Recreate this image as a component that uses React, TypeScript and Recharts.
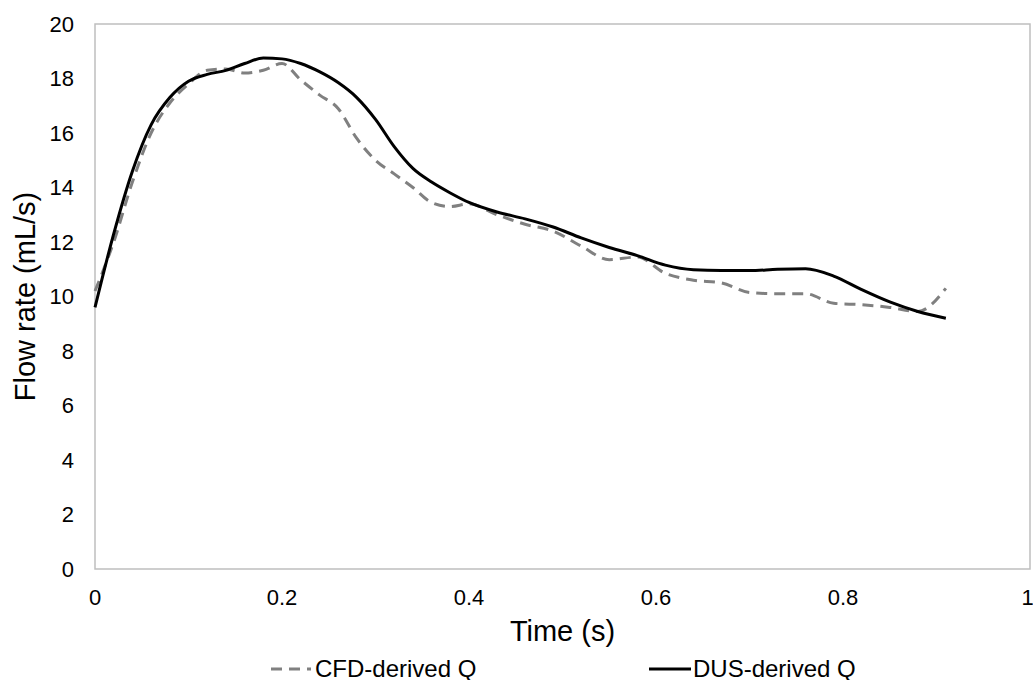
import React from "react";
import {
  LineChart,
  Line,
  XAxis,
  YAxis,
  Legend,
  ReferenceArea,
} from "recharts";

const time = [
  0, 0.02, 0.04, 0.06, 0.08, 0.1, 0.12, 0.14, 0.16, 0.18, 0.2, 0.22, 0.24,
  0.26, 0.28, 0.3, 0.32, 0.34, 0.36, 0.38, 0.4, 0.43, 0.46, 0.49, 0.52, 0.55,
  0.58, 0.61, 0.64, 0.67, 0.7, 0.73, 0.76, 0.79, 0.82, 0.85, 0.88, 0.91,
];

const cfdQ = [
  10.2, 12.0, 14.2, 16.0, 17.1, 17.8, 18.3, 18.35, 18.2, 18.3, 18.55, 17.95,
  17.4, 16.9, 15.8, 15.0, 14.5, 14.0, 13.45, 13.3, 13.4, 13.0, 12.65, 12.4,
  11.85, 11.35, 11.45, 10.85, 10.6, 10.5, 10.15, 10.1, 10.1, 9.75, 9.7, 9.6,
  9.45, 10.3,
];

const dusQ = [
  9.6, 12.3, 14.6, 16.3, 17.3, 17.9, 18.15, 18.3, 18.55, 18.75, 18.72, 18.55,
  18.25, 17.85, 17.3, 16.5, 15.5, 14.7, 14.2, 13.8, 13.45, 13.1, 12.85,
  12.55, 12.15, 11.8, 11.5, 11.15, 10.98, 10.95, 10.95, 11.0, 11.02, 10.75,
  10.25, 9.8, 9.45, 9.2,
];

const xTicks = [0, 0.2, 0.4, 0.6, 0.8, 1];
const yTicks = [0, 2, 4, 6, 8, 10, 12, 14, 16, 18, 20];

const seriesNames = { cfd: "CFD-derived Q", dus: "DUS-derived Q" };

const data = time.map((t, i) => ({ t, cfd: cfdQ[i], dus: dusQ[i] }));

const FONT = '"Liberation Sans", Arial, sans-serif';

function FlowLegend() {
  return (
    <div
      style={{
        height: 36,
        boxSizing: "border-box",
        paddingTop: 14,
        paddingLeft: 271,
        display: "flex",
        justifyContent: "flex-start",
        alignItems: "center",
        fontFamily: FONT,
        fontSize: 24,
        color: "#000",
      }}
    >
      <div style={{ display: "flex", alignItems: "center", width: 378 }}>
        <svg width={40} height={10}>
          <line x1={0} y1={5} x2={40} y2={5} stroke="#808080" strokeWidth={3} strokeDasharray="11 7" />
        </svg>
        <span style={{ marginLeft: 4 }}>{seriesNames.cfd}</span>
      </div>
      <div style={{ display: "flex", alignItems: "center" }}>
        <svg width={42} height={10}>
          <line x1={0} y1={5} x2={42} y2={5} stroke="#000" strokeWidth={3} />
        </svg>
        <span style={{ marginLeft: 2 }}>{seriesNames.dus}</span>
      </div>
    </div>
  );
}

export default function App() {
  return (
    <div style={{ position: "absolute", left: 0, top: 0, width: 1033, height: 680, background: "#fff" }}>
      <LineChart
        width={1033}
        height={680}
        data={data}
        margin={{ top: 24, right: 3, bottom: 0, left: 0 }}
        style={{ fontFamily: FONT }}
      >
        <ReferenceArea
          x1={0}
          x2={1}
          y1={0}
          y2={20}
          fill="none"
          stroke="#bfbfbf"
          strokeWidth={1.5}
        />
        <XAxis
          dataKey="t"
          type="number"
          domain={[0, 1]}
          ticks={xTicks}
          axisLine={false}
          tickLine={false}
          tickMargin={14}
          height={75}
          tick={{ fontSize: 22, fill: "#000" }}
          label={{
            value: "Time (s)",
            position: "insideBottom",
            offset: 3,
            fontSize: 29,
            fill: "#000",
          }}
        />
        <YAxis
          type="number"
          domain={[0, 20]}
          ticks={yTicks}
          width={95}
          axisLine={false}
          tickLine={false}
          tickMargin={15}
          tick={{ fontSize: 22, fill: "#000" }}
          label={{
            content: ({ viewBox }: any) => {
              const cy = viewBox.y + viewBox.height / 2;
              return (
                <text
                  x={25}
                  y={cy}
                  transform={`rotate(-90 25 ${cy})`}
                  textAnchor="middle"
                  dominantBaseline="central"
                  fontSize={29}
                  fill="#000"
                  fontFamily={FONT}
                >
                  Flow rate (mL/s)
                </text>
              );
            },
          }}
        />
        <Legend verticalAlign="bottom" content={() => <FlowLegend />} />
        <Line
          type="monotone"
          dataKey="cfd"
          name={seriesNames.cfd}
          stroke="#808080"
          strokeWidth={3}
          strokeDasharray="11 7"
          dot={false}
          isAnimationActive={false}
        />
        <Line
          type="monotone"
          dataKey="dus"
          name={seriesNames.dus}
          stroke="#000"
          strokeWidth={3}
          dot={false}
          isAnimationActive={false}
        />
      </LineChart>
    </div>
  );
}
